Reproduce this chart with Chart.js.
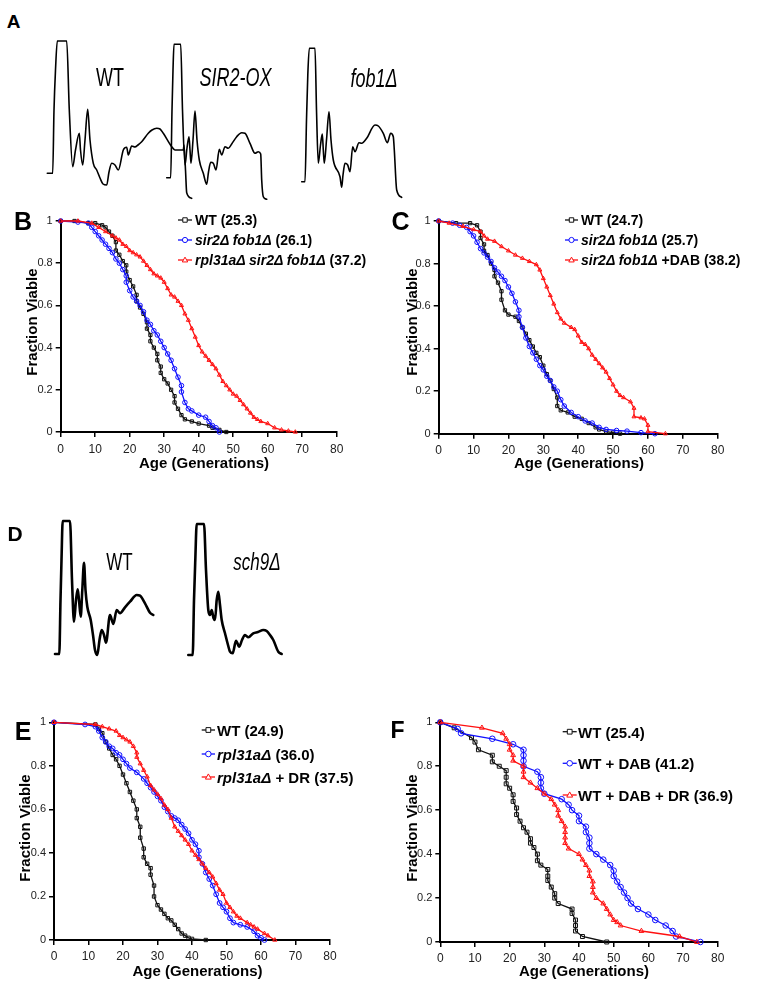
<!DOCTYPE html>
<html><head><meta charset="utf-8">
<script src="https://cdn.jsdelivr.net/npm/chart.js@4.4.0/dist/chart.umd.min.js"></script>
<style>
body{margin:0;background:#fff;}
#fig{position:relative;width:759px;height:987px;overflow:hidden;font-family:"Liberation Sans",Arial,sans-serif;color:#000;background:#fff;}
canvas{position:absolute;}
.t{position:absolute;white-space:nowrap;line-height:1;}
.c{transform:translate(-50%,-50%);}
.l{transform:translateY(-50%);}
.letter{font-weight:bold;}
.ax{font-weight:bold;font-size:15px;}
.ylab{transform:translate(-50%,-50%) rotate(-90deg);}
.leg{font-weight:bold;transform:translateY(-50%);}
.prof{transform:translate(-50%,-50%) scaleY(1.45);}
</style></head><body><div id="fig">

<div class="t letter c" style="left:13.5px;top:21px;font-size:19px;">A</div>
<div class="t letter c" style="left:23px;top:221px;font-size:25px;">B</div>
<div class="t letter c" style="left:400.5px;top:221px;font-size:25px;">C</div>
<div class="t letter c" style="left:15px;top:532.5px;font-size:21px;">D</div>
<div class="t letter c" style="left:23px;top:731px;font-size:25px;">E</div>
<div class="t letter c" style="left:397.5px;top:729.5px;font-size:23px;">F</div>

<div class="t prof" style="left:110px;top:77px;font-size:18px;">WT</div>
<div class="t prof" style="left:235.5px;top:77px;font-size:18px;font-style:italic;">SIR2-OX</div>
<div class="t prof" style="left:374px;top:78px;font-size:18px;font-style:italic;">fob1Δ</div>
<div class="t prof" style="left:119.5px;top:561.5px;font-size:17px;">WT</div>
<div class="t prof" style="left:257px;top:561.5px;font-size:17px;font-style:italic;">sch9Δ</div>

<div class="t ax ylab" style="left:30.5px;top:322px;">Fraction Viable</div>
<div class="t ax c" style="left:204px;top:462px;">Age (Generations)</div>
<div class="t ax ylab" style="left:410.5px;top:322px;">Fraction Viable</div>
<div class="t ax c" style="left:579px;top:462px;">Age (Generations)</div>
<div class="t ax ylab" style="left:23.5px;top:827.5px;">Fraction Viable</div>
<div class="t ax c" style="left:197.5px;top:970px;">Age (Generations)</div>
<div class="t ax ylab" style="left:410.5px;top:827.5px;">Fraction Viable</div>
<div class="t ax c" style="left:584px;top:970px;">Age (Generations)</div>

<div class="t leg" style="left:195px;top:220px;font-size:14px;">WT (25.3)</div>
<div class="t leg" style="left:195px;top:240px;font-size:14px;"><i>sir2Δ fob1Δ</i> (26.1)</div>
<div class="t leg" style="left:195px;top:260px;font-size:14px;"><i>rpl31aΔ sir2Δ fob1Δ</i> (37.2)</div>
<div class="t leg" style="left:581px;top:220px;font-size:14px;">WT (24.7)</div>
<div class="t leg" style="left:581px;top:240px;font-size:14px;"><i>sir2Δ fob1Δ</i> (25.7)</div>
<div class="t leg" style="left:581px;top:260px;font-size:14px;"><i>sir2Δ fob1Δ</i> +DAB (38.2)</div>
<div class="t leg" style="left:217px;top:730px;font-size:15px;">WT (24.9)</div>
<div class="t leg" style="left:217px;top:754px;font-size:15px;"><i>rpl31aΔ</i> (36.0)</div>
<div class="t leg" style="left:217px;top:777px;font-size:15px;"><i>rpl31aΔ</i> + DR (37.5)</div>
<div class="t leg" style="left:578px;top:731.7px;font-size:15px;">WT (25.4)</div>
<div class="t leg" style="left:578px;top:763.3px;font-size:15px;">WT + DAB (41.2)</div>
<div class="t leg" style="left:578px;top:795px;font-size:15px;">WT + DAB + DR (36.9)</div>

</div>
<script>
// ---------- Polysome profile traces (position along gradient, A254 arbitrary units) ----------
const aWtPos = [2.3,7.7,9,10.5,12.3,21.7,24.3,27.7,30.5,34.3,35.5,37.7,40,42.7,45,48.3,51.7,55,58,61.7,64,66.7,70,73.3,78.3,81.7,83.3,86.7,90,93,96.7,103.3,107,111.7,115,118.3,126.7,130,138.3,139,140.5,141.7,146.7];
const aWtAbs = [26.7,26.7,90,130,159,159,90,33.3,50,66.7,50,35,60,90.7,60,36.7,30,22,16,15,28,36.7,35,30,50,52.7,45,54,53,55,58.3,66.7,70,71.7,71,66.7,53.3,50,50,55,30,7.3,1.7];
const aSirPos = [1.7,5.7,7,8,9,15.7,17.5,20,22,24,25,26,28,30,32,34.3,38.3,41.7,43.5,45.7,48.3,51,54.3,56.7,60,63.3,66.7,71.7,76.7,80,85,90,93.3,95.7,96.7,98.3,101.7];
const aSirAbs = [22.3,22.3,90,130,155.7,155.7,90,35,52,63.3,50,36.7,60,89,60,40,26.7,15.7,28,37.7,36.7,30,50.7,45,53.3,51.7,56,63.3,67.3,66.7,56.7,46.7,48.3,46,20,3.3,0.7];
const aFobPos = [1.7,5,6.5,7.8,9.3,15,16.5,18.3,20.5,22.3,23.3,24.3,26.5,29,31,33.3,40,41.7,43,45,47.7,50,52.7,55,59,61.7,66.7,75,78.3,83.3,87.3,90.7,93.3,94.3,96.7,101.7];
const aFobAbs = [18.3,18.3,80,125,151.7,151.7,90,36.7,55,66,50,36.7,60,88.3,60,40,23.3,12.7,25,36.7,35,28.3,53.3,48.3,57.3,56.7,61.7,75,74,66.7,57.3,66.7,63.3,50,10,2.7];
const dWtPos = [5,9.3,10.5,11.5,12.7,20,22,24,26,27.7,29,30.7,32.3,34,35.5,37.3,40.7,43,45,47.3,49.5,51.7,54,56,60,63.3,66.7,70,75,80,86.7,90,95,100,103.3];
const dWtAbs = [11,11,65,105,144,144,85,43.3,65,75.7,65,48.3,75,102.3,75,58.3,45,30,15,10,25,35,30,22.3,50,41,55,51.7,57.7,63.3,70,69.3,61.7,52.3,50];
const dSchPos = [3.3,7.7,9,10.3,11.7,19,21,23.3,25,26.7,28.5,30,31.7,33.3,35,36.7,40,43,45,47.7,51,54.3,57,60,63.3,68.3,73,78.3,81.7,85,88.3,93.3,96.7];
const dSchAbs = [10,10,65,105,141,141,95,55,50,55,47,45,65,73.3,60,45,31.7,20,13.3,11.7,24.3,18.3,25,30,27.7,31.7,33,35,34,30,25,13.3,11];

// ---------- Survival curves: age (generations) and fraction viable ----------
const ageTicks = [0,10,20,30,40,50,60,70,80];
const fracTicks = [0,0.2,0.4,0.6,0.8,1];

const bWtAge = [0,4,8,10,12,13,14,15,16,16,17,18,19,19,20,21,22,22,23,24,25,25,26,26,27,28,28,29,29,30,31,32,33,33,34,35,36,38,40,43,44,46,48];
const bWtFrac = [1,1,0.99,0.99,0.98,0.97,0.95,0.93,0.9,0.86,0.84,0.81,0.79,0.76,0.72,0.69,0.65,0.62,0.59,0.56,0.52,0.49,0.46,0.43,0.4,0.37,0.34,0.31,0.28,0.25,0.23,0.2,0.17,0.14,0.11,0.08,0.06,0.05,0.04,0.03,0.02,0.01,0];
const bSirAge = [0,5,8,9,10,11,12,13,14,15,16,17,18,19,19,20,21,22,23,24,25,26,27,28,29,30,31,32,33,34,35,35,36,37,38,40,42,43,44,45,46];
const bSirFrac = [1,0.995,0.99,0.97,0.95,0.93,0.91,0.89,0.87,0.85,0.82,0.8,0.77,0.74,0.71,0.67,0.64,0.62,0.6,0.57,0.53,0.51,0.48,0.46,0.43,0.4,0.37,0.34,0.3,0.26,0.22,0.19,0.14,0.11,0.1,0.08,0.07,0.05,0.03,0.02,0];
const bRplAge = [0,5,9,11,13,15,16,17,18,19,20,21,22,23,24,25,26,27,28,29,30,31,32,33,34,35,36,37,38,39,40,41,42,43,44,45,46,47,48,49,50,51,52,53,54,55,56,57,58,60,62,64,66,68];
const bRplFrac = [1,1,0.99,0.97,0.95,0.93,0.92,0.91,0.89,0.88,0.86,0.85,0.84,0.83,0.81,0.79,0.77,0.75,0.74,0.73,0.71,0.68,0.65,0.64,0.62,0.6,0.56,0.53,0.49,0.45,0.41,0.38,0.36,0.34,0.32,0.3,0.27,0.24,0.22,0.2,0.18,0.17,0.15,0.13,0.11,0.09,0.07,0.06,0.05,0.04,0.02,0.01,0.005,0];

const cWtAge = [0,5,9,11,12,12,13,13,14,15,16,16,17,18,18,19,20,22,23,24,25,26,27,28,29,30,31,32,33,34,34,35,37,39,41,43,45,46,48,50,52];
const cWtFrac = [1,0.99,0.99,0.98,0.95,0.92,0.89,0.86,0.84,0.8,0.77,0.74,0.71,0.67,0.63,0.58,0.56,0.55,0.53,0.5,0.47,0.44,0.41,0.38,0.36,0.32,0.28,0.25,0.21,0.17,0.13,0.11,0.1,0.08,0.07,0.05,0.03,0.02,0.01,0.005,0];
const cSirAge = [0,4,6,8,9,10,11,12,13,14,15,16,17,18,19,20,21,22,23,23,24,25,26,27,28,29,30,31,32,33,34,35,36,38,40,42,44,46,48,51,54,58,62];
const cSirFrac = [1,0.99,0.98,0.97,0.95,0.93,0.9,0.87,0.85,0.83,0.81,0.78,0.76,0.74,0.72,0.69,0.66,0.62,0.58,0.55,0.5,0.45,0.41,0.38,0.35,0.32,0.3,0.27,0.25,0.22,0.2,0.16,0.13,0.1,0.08,0.06,0.05,0.03,0.02,0.015,0.012,0.005,0];
const cDabAge = [0,3,7,10,12,13,14,16,18,20,22,24,26,28,29,30,31,32,33,34,35,36,38,39,40,41,42,43,44,45,46,47,48,49,50,51,52,53,55,56,56,58,59,60,60,65];
const cDabFrac = [1,0.99,0.975,0.96,0.95,0.93,0.915,0.905,0.88,0.86,0.84,0.825,0.81,0.795,0.77,0.73,0.69,0.65,0.61,0.57,0.54,0.52,0.5,0.49,0.46,0.43,0.42,0.4,0.37,0.35,0.33,0.31,0.29,0.26,0.23,0.2,0.18,0.17,0.15,0.12,0.08,0.075,0.07,0.04,0.01,0];

const eWtAge = [0,12,13,14,15,16,17,18,19,20,21,22,23,24,24,25,25,26,26,27,28,28,29,29,30,31,32,33,34,35,36,37,38,39,40,44];
const eWtFrac = [1,0.99,0.97,0.95,0.91,0.88,0.85,0.83,0.8,0.76,0.72,0.68,0.64,0.6,0.56,0.52,0.47,0.42,0.38,0.35,0.33,0.3,0.25,0.2,0.16,0.14,0.12,0.1,0.09,0.07,0.05,0.03,0.02,0.01,0.005,0];
const eRplAge = [0,9,12,13,14,15,16,17,18,19,20,21,22,24,26,27,28,29,30,31,32,33,34,35,36,37,38,39,40,41,42,42,43,44,45,46,47,48,49,50,51,52,54,56,58,59,60,61];
const eRplFrac = [1,0.99,0.98,0.96,0.93,0.91,0.89,0.88,0.86,0.85,0.83,0.81,0.79,0.77,0.74,0.72,0.7,0.68,0.66,0.64,0.61,0.59,0.57,0.56,0.55,0.53,0.51,0.49,0.46,0.44,0.41,0.38,0.35,0.31,0.28,0.25,0.21,0.17,0.15,0.13,0.1,0.08,0.07,0.06,0.04,0.02,0.01,0];
const eDrAge = [0,12,14,16,18,19,20,21,22,23,24,24,25,26,27,28,29,30,31,32,33,34,35,36,37,38,39,40,41,42,43,44,45,46,47,48,49,50,51,52,53,54,56,57,58,59,61,62,64];
const eDrFrac = [1,0.99,0.98,0.97,0.96,0.94,0.93,0.92,0.91,0.89,0.86,0.84,0.81,0.78,0.75,0.71,0.69,0.67,0.65,0.62,0.6,0.56,0.52,0.5,0.48,0.46,0.44,0.41,0.39,0.37,0.35,0.33,0.31,0.29,0.26,0.23,0.21,0.17,0.15,0.13,0.11,0.1,0.08,0.07,0.06,0.05,0.03,0.02,0];

const fWtAge = [0,4,9,10,11,15,15,17,19,19,19,20,21,21,22,22,23,24,25,26,26,27,28,28,29,31,31,31,32,33,33,34,38,38,39,39,39,41,48];
const fWtFrac = [1,0.975,0.93,0.91,0.875,0.85,0.82,0.8,0.78,0.75,0.72,0.7,0.67,0.64,0.61,0.58,0.55,0.52,0.5,0.47,0.45,0.43,0.4,0.37,0.35,0.33,0.3,0.28,0.25,0.22,0.2,0.175,0.15,0.13,0.1,0.075,0.05,0.025,0];
const fDabAge = [0,5,6,15,21,24,24,24,24,28,29,29,29,30,35,37,38,40,40,42,42,43,43,43,45,47,49,50,50,51,52,53,54,55,57,60,62,65,67,68,75];
const fDabFrac = [1,0.97,0.95,0.925,0.9,0.875,0.85,0.825,0.8,0.775,0.75,0.725,0.7,0.675,0.65,0.625,0.6,0.575,0.55,0.525,0.5,0.475,0.45,0.425,0.4,0.375,0.35,0.325,0.3,0.275,0.25,0.225,0.2,0.175,0.15,0.125,0.1,0.075,0.05,0.025,0];
const fDrAge = [0,12,18,19,20,20,21,21,24,24,24,26,28,30,32,33,34,34,35,36,36,36,36,37,40,41,42,43,43,44,44,44,45,47,48,49,50,51,52,58,69,74];
const fDrFrac = [1,0.975,0.95,0.925,0.9,0.875,0.85,0.825,0.8,0.775,0.75,0.725,0.7,0.675,0.65,0.625,0.6,0.575,0.55,0.525,0.5,0.475,0.45,0.425,0.4,0.375,0.35,0.325,0.3,0.275,0.25,0.225,0.2,0.175,0.15,0.125,0.1,0.09,0.075,0.05,0.025,0];

// ---------- helpers ----------
const fig = document.getElementById('fig');
function mkCanvas(left, top, w, h){
  const c = document.createElement('canvas');
  c.width = w; c.height = h;
  c.style.left = left + 'px'; c.style.top = top + 'px';
  c.style.width = w + 'px'; c.style.height = h + 'px';
  fig.insertBefore(c, fig.firstChild);
  return c;
}
function profile(left, top, w, h, xs, ys, lw){
  const c = mkCanvas(left, top, w, h);
  new Chart(c, {
    type: 'line',
    data: {datasets: [{data: xs.map((x,i)=>({x:x, y:ys[i]})), borderColor:'#000', borderWidth:lw,
      pointRadius:0, fill:false, cubicInterpolationMode:'monotone', clip:false,
      borderJoinStyle:'round', borderCapStyle:'round'}]},
    options: {responsive:false, animation:false, devicePixelRatio:1,
      layout:{padding:0},
      plugins:{legend:{display:false}, tooltip:{enabled:false}},
      scales:{x:{type:'linear', display:false, min:0, max:w}, y:{type:'linear', display:false, min:0, max:h}}}
  });
}
function shape(ctx, style, x, y, r){
  ctx.beginPath();
  if (style === 'rect') { ctx.rect(x - r*0.85, y - r*0.85, r*1.7, r*1.7); }
  else if (style === 'circle') { ctx.arc(x, y, r, 0, Math.PI*2); }
  else { ctx.moveTo(x, y - r*1.1); ctx.lineTo(x + r*1.05, y + r*0.75); ctx.lineTo(x - r*1.05, y + r*0.75); ctx.closePath(); }
  ctx.fill(); ctx.stroke();
}
const legendMarks = {
  id: 'legendMarks',
  afterDraw(chart, args, opts){
    if (!opts || !opts.rows) return;
    const ctx = chart.ctx;
    chart.data.datasets.forEach((ds, i) => {
      const y = opts.rows[i];
      ctx.save();
      ctx.strokeStyle = ds.borderColor; ctx.lineWidth = 1.3;
      ctx.beginPath(); ctx.moveTo(opts.x1, y); ctx.lineTo(opts.x2, y); ctx.stroke();
      ctx.fillStyle = '#fff'; ctx.lineWidth = 1;
      shape(ctx, ds.pointStyle, (opts.x1 + opts.x2)/2, y, opts.r);
      ctx.restore();
    });
  }
};
const COLORS = ['#111111', '#1010ff', '#ff1010'];
const STYLES = ['rect', 'circle', 'triangle'];
function survival(left, top, w, h, area, series, leg, pr, tickPad){
  const c = mkCanvas(left, top, w, h);
  const fontX = {family:'"Liberation Sans", Arial, sans-serif', size:12};
  const fontY = {family:'"Liberation Sans", Arial, sans-serif', size:11};
  new Chart(c, {
    type: 'line',
    data: {datasets: series.map((s, k) => ({
      data: s[0].map((a, i) => ({x:a, y:s[1][i]})),
      borderColor: COLORS[k], backgroundColor:'rgba(0,0,0,0)', borderWidth:1.3,
      pointStyle: STYLES[k], pointRadius: pr, pointBorderWidth:1,
      pointBorderColor: COLORS[k], pointBackgroundColor:'rgba(255,255,255,0)',
      fill:false, tension:0, clip:false, order: 3 - k
    }))},
    options: {responsive:false, animation:false, devicePixelRatio:1,
      layout:{padding:{left:0, top:area.top, right:w - area.right, bottom:0}},
      plugins:{legend:{display:false}, tooltip:{enabled:false}, legendMarks: leg},
      scales:{
        x:{type:'linear', min:ageTicks[0], max:ageTicks[ageTicks.length-1],
           afterBuildTicks: ax => { ax.ticks = ageTicks.map(v => ({value:v})); },
           ticks:{font:fontX, color:'#222', padding:tickPad, maxRotation:0, autoSkip:false},
           grid:{display:true, drawOnChartArea:false, drawTicks:true, tickLength:5, color:'#000', lineWidth:1.5},
           border:{display:true, color:'#000', width:2},
           afterFit: ax => { ax.height = h - area.bottom; }},
        y:{type:'linear', min:fracTicks[0], max:fracTicks[fracTicks.length-1],
           afterBuildTicks: ax => { ax.ticks = fracTicks.map(v => ({value:v})); },
           ticks:{font:fontY, color:'#222', padding:3, autoSkip:false, callback: v => String(v)},
           grid:{display:true, drawOnChartArea:false, drawTicks:true, tickLength:5, color:'#000', lineWidth:1.5},
           border:{display:true, color:'#000', width:2},
           afterFit: ax => { ax.width = area.left; }}
      }},
    plugins:[legendMarks]
  });
}

// ---------- build ----------
profile(45, 38, 150, 162, aWtPos, aWtAbs, 1.6);
profile(165, 38, 150, 162, aSirPos, aSirAbs, 1.6);
profile(300, 38, 150, 162, aFobPos, aFobAbs, 1.6);
profile(50, 515, 150, 150, dWtPos, dWtAbs, 2.6);
profile(185, 515, 150, 150, dSchPos, dSchAbs, 2.6);

survival(0, 205, 380, 270, {left:60.7, right:336.7, top:16, bottom:227},
  [[bWtAge,bWtFrac],[bSirAge,bSirFrac],[bRplAge,bRplFrac]],
  {rows:[15,35,55], x1:178, x2:192, r:2.6}, 2.3, 5);
survival(380, 205, 379, 270, {left:58.7, right:337.7, top:16, bottom:228.7},
  [[cWtAge,cWtFrac],[cSirAge,cSirFrac],[cDabAge,cDabFrac]],
  {rows:[15,35,55], x1:185, x2:198, r:2.6}, 2.3, 5);
survival(0, 705, 380, 282, {left:54, right:330, top:17.3, bottom:235},
  [[eWtAge,eWtFrac],[eRplAge,eRplFrac],[eDrAge,eDrFrac]],
  {rows:[25,49,72], x1:201.7, x2:215, r:2.8}, 2.4, 4);
survival(380, 705, 379, 282, {left:60.3, right:337.7, top:17.3, bottom:237},
  [[fWtAge,fWtFrac],[fDabAge,fDabFrac],[fDrAge,fDrFrac]],
  {rows:[26.7,58.3,90], x1:182.7, x2:196.7, r:2.8}, 2.8, 4);
</script>
</body></html>
